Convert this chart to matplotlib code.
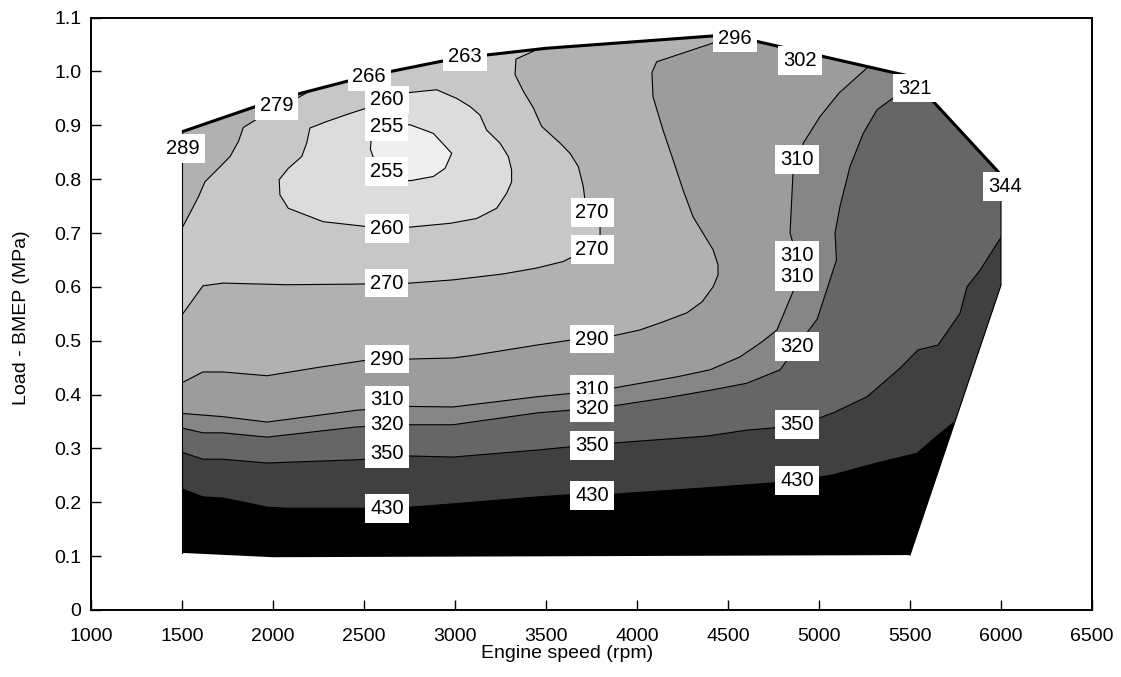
import numpy as np
import matplotlib
matplotlib.use("Agg")
import matplotlib.pyplot as plt
from matplotlib.patches import Polygon

plt.rcParams['font.family'] = ['Liberation Sans', 'DejaVu Sans']

# operating area: bottom-left, max torque line, right side, bottom
edge_rpm = [1500, 1500, 2000, 2500, 3000, 3500, 4500, 5500, 6000, 6000, 5500, 2000]
edge_bmep = [0.106, 0.888, 0.946, 0.990, 1.024, 1.043, 1.068, 0.991, 0.808, 0.603, 0.102, 0.098]

# BSFC iso-lines (g/kWh)
rpm_430 = [1500, 1615, 1725, 1967, 2077, 2500, 2753, 2989, 3451, 3632, 3868, 4385, 4747, 5005,
           5077, 5319, 5538, 5645, 5736]
bmep_430 = [0.225, 0.210, 0.208, 0.191, 0.189, 0.189, 0.191, 0.197, 0.210, 0.214, 0.215, 0.227,
            0.236, 0.247, 0.251, 0.273, 0.291, 0.322, 0.347]

rpm_350 = [1500, 1615, 1725, 1967, 2462, 2753, 2989, 3451, 3632, 3868, 4385, 4604, 4747, 5005,
           5077, 5264, 5445, 5544, 5654, 5775, 5813, 5885, 6000]
bmep_350 = [0.293, 0.280, 0.280, 0.273, 0.279, 0.286, 0.284, 0.297, 0.303, 0.310, 0.323, 0.334,
            0.338, 0.357, 0.366, 0.396, 0.449, 0.483, 0.492, 0.551, 0.600, 0.631, 0.692]

rpm_320 = [1500, 1615, 1725, 1967, 2462, 2753, 2989, 3451, 3632, 3868, 4163, 4418, 4603, 4786,
           4932, 4990, 5045, 5096, 5088, 5115, 5170, 5243, 5319, 5429, 5500]
bmep_320 = [0.338, 0.329, 0.329, 0.321, 0.340, 0.344, 0.344, 0.366, 0.371, 0.379, 0.394, 0.409,
            0.421, 0.446, 0.514, 0.540, 0.597, 0.650, 0.700, 0.749, 0.823, 0.885, 0.929, 0.956, 1.04]

rpm_310 = [1500, 1725, 1967, 2462, 2753, 2989, 3451, 3632, 3868, 4220, 4401, 4566, 4687, 4769,
           4857, 4868, 4857, 4841, 4857, 4914, 5005, 5110, 5262, 5320]
bmep_310 = [0.365, 0.359, 0.349, 0.371, 0.378, 0.377, 0.396, 0.402, 0.412, 0.433, 0.446, 0.470,
            0.498, 0.520, 0.591, 0.650, 0.681, 0.700, 0.811, 0.867, 0.916, 0.960, 1.006, 1.05]

rpm_290 = [1500, 1615, 1725, 1967, 2258, 2516, 2753, 2989, 3082, 3451, 3632, 3868, 4016, 4143,
           4275, 4357, 4418, 4445, 4445, 4418, 4308, 4253, 4198, 4143, 4088, 4082, 4108, 4419, 4700]
bmep_290 = [0.422, 0.442, 0.442, 0.435, 0.451, 0.464, 0.466, 0.468, 0.472, 0.492, 0.501, 0.509,
            0.520, 0.535, 0.552, 0.572, 0.600, 0.622, 0.641, 0.669, 0.730, 0.780, 0.836, 0.891,
            0.953, 0.998, 1.018, 1.053, 1.085]

# 270 line in two pieces: main one and the small one in the top-left corner
rpm_270b = [1500, 1615, 1727, 2075, 2423, 2753, 2989, 3264, 3449, 3594, 3700, 3797, 3797, 3714,
            3705, 3678, 3632, 3577, 3476, 3431, 3376, 3330, 3335, 3440, 3500]
bmep_270b = [0.548, 0.602, 0.607, 0.604, 0.605, 0.607, 0.613, 0.624, 0.635, 0.647, 0.665, 0.692,
             0.712, 0.761, 0.786, 0.823, 0.848, 0.867, 0.898, 0.932, 0.963, 0.994, 1.023, 1.039, 1.07]
rpm_270a = [2260, 2215, 2130, 1919, 1837, 1810, 1764, 1709, 1626, 1590, 1544, 1500, 1450]
bmep_270a = [1.0, 0.966, 0.950, 0.913, 0.896, 0.870, 0.842, 0.823, 0.795, 0.767, 0.737, 0.709, 0.70]

rpm_260 = [2624, 2753, 2899, 3009, 3082, 3137, 3174, 3247, 3293, 3311, 3311, 3284, 3229, 3119,
           2973, 2753, 2515, 2276, 2084, 2038, 2034, 2084, 2158, 2185, 2203, 2295, 2423, 2515, 2624]
bmep_260 = [0.947, 0.961, 0.966, 0.950, 0.935, 0.919, 0.891, 0.867, 0.842, 0.817, 0.795, 0.774,
            0.746, 0.727, 0.718, 0.711, 0.712, 0.721, 0.746, 0.771, 0.799, 0.820, 0.842, 0.867,
            0.895, 0.907, 0.922, 0.932, 0.947]

rpm_255 = [2540, 2624, 2753, 2881, 2982, 2945, 2881, 2753, 2624, 2562, 2535, 2540]
bmep_255 = [0.875, 0.898, 0.901, 0.885, 0.848, 0.820, 0.805, 0.797, 0.806, 0.830, 0.856, 0.875]

# inline labels
lab_rpm = [2626] * 10 + [3753] * 7 + [4879] * 6
lab_bmep = [0.947, 0.898, 0.814, 0.709, 0.607, 0.466, 0.390, 0.345, 0.290, 0.189,
            0.738, 0.669, 0.503, 0.409, 0.375, 0.306, 0.212,
            0.837, 0.659, 0.619, 0.489, 0.344, 0.241]
lab_text = ['260', '255', '255', '260', '270', '290', '310', '320', '350', '430',
            '270', '270', '290', '310', '320', '350', '430',
            '310', '310', '310', '320', '350', '430']

# values along the max torque line
top_rpm = [1507, 2020, 2529, 3055, 4538, 4896, 5527, 6022]
top_bmep = [0.857, 0.936, 0.990, 1.028, 1.062, 1.020, 0.969, 0.786]
top_text = ['289', '279', '266', '263', '296', '302', '321', '344']

colors = ['#000000', '#404040', '#666666', '#868686', '#9c9c9c', '#b1b1b1', '#c7c7c7',
          '#dcdcdc', '#efefef']

fig = plt.figure(figsize=(11.21, 6.77), dpi=100)
ax = fig.add_axes([91 / 1121, 67 / 677, 1001 / 1121, 592.4 / 677])

area = Polygon(np.column_stack([edge_rpm, edge_bmep]), closed=True,
               facecolor=colors[0], edgecolor='none', zorder=1)
ax.add_patch(area)

hi = 1.3
lo = 1300
far = 6300
regions = [
    (rpm_430 + [far, far, lo, lo], bmep_430 + [bmep_430[-1], hi, hi, bmep_430[0]]),
    (rpm_350 + [far, far, lo, lo], bmep_350 + [bmep_350[-1], hi, hi, bmep_350[0]]),
    (rpm_320 + [rpm_320[-1], lo, lo], bmep_320 + [hi, hi, bmep_320[0]]),
    (rpm_310 + [rpm_310[-1], lo, lo], bmep_310 + [hi, hi, bmep_310[0]]),
    (rpm_290 + [rpm_290[-1], lo, lo], bmep_290 + [hi, hi, bmep_290[0]]),
    (rpm_270b + [rpm_270b[-1], rpm_270a[0]] + rpm_270a + [lo, lo],
     bmep_270b + [hi, hi] + bmep_270a + [bmep_270a[-1], bmep_270b[0]]),
    (rpm_260, bmep_260),
    (rpm_255, bmep_255),
]
for i, (xs, ys) in enumerate(regions):
    p = Polygon(np.column_stack([xs, ys]), closed=True, facecolor=colors[i + 1],
                edgecolor='none', zorder=2)
    ax.add_patch(p)
    p.set_clip_path(area)

for xs, ys in [(rpm_430, bmep_430), (rpm_350, bmep_350), (rpm_320, bmep_320),
               (rpm_310, bmep_310), (rpm_290, bmep_290), (rpm_270a, bmep_270a),
               (rpm_270b, bmep_270b), (rpm_260, bmep_260), (rpm_255, bmep_255)]:
    ln, = ax.plot(xs, ys, color='k', lw=0.8, zorder=3)
    ln.set_clip_path(area)

# outline of the map
ax.plot(edge_rpm[0:2], edge_bmep[0:2], color='k', lw=0.8, zorder=4)
ax.plot(edge_rpm[8:11], edge_bmep[8:11], color='k', lw=0.8, zorder=4)
ax.plot(edge_rpm[1:9], edge_bmep[1:9], color='k', lw=2.2, zorder=4, solid_capstyle='butt')

box = dict(boxstyle='square,pad=0.24', facecolor='white', edgecolor='none')
for x, y, t in zip(lab_rpm + top_rpm, lab_bmep + top_bmep, lab_text + top_text):
    ax.text(x, y, t, fontsize=14.5, ha='center', va='center', bbox=box, zorder=5)

ax.set_xlim(1000, 6500)
ax.set_ylim(0, 1.1)
ax.set_xticks(np.arange(1000, 6501, 500))
yt = np.arange(0, 12) / 10
ax.set_yticks(yt)
ax.set_yticklabels(['0'] + ['%.1f' % v for v in yt[1:]])
ax.tick_params(direction='in', length=7, width=1, labelsize=14, top=False, right=False)
ax.tick_params(axis='x', pad=13)
ax.tick_params(axis='y', pad=7)
for s in ax.spines.values():
    s.set_linewidth(1.4)

fig.text(567 / 1121, 1 - 653 / 677, 'Engine speed (rpm)', fontsize=14, ha='center', va='center')
fig.text(22 / 1121, 1 - 318 / 677, 'Load - BMEP (MPa)', fontsize=14, ha='center', va='center',
         rotation=90)

fig.savefig('out.png', dpi=100)
